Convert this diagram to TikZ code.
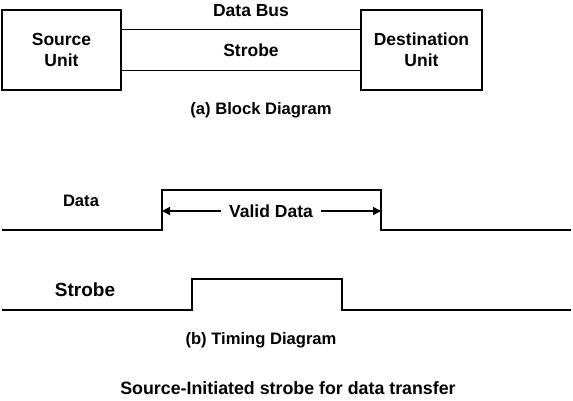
\documentclass[tikz,border=0pt]{standalone}
\usepackage{fontspec}
\setmainfont{Liberation Sans}
\usetikzlibrary{arrows.meta,calc,positioning}

\begin{document}
\begin{tikzpicture}[x=1pt,y=-1pt,
    unit/.style={draw,line width=1.6pt,minimum width=119pt,minimum height=80pt,
                align=center,font=\fontsize{17.5}{21}\selectfont\bfseries},
    lbl/.style={font=\fontsize{17.5}{21}\selectfont\bfseries,inner sep=1pt},
    figcap/.style={font=\fontsize{16.6}{20}\selectfont\bfseries},
    wire/.style={line width=1.5pt},
    arr/.style={-{Triangle[length=8pt,width=8pt]},line width=1.5pt}]
    \useasboundingbox (0,0) rectangle (573,401);
    % block diagram
    \node[unit] (src) at (61.5,50) {Source\\Unit};
    \node[unit,minimum width=121pt] (dst) at (421.5,50) {Destination\\Unit};
    \draw[wire] ($(src.north east)!.25!(src.south east)$) -- ($(dst.north west)!.25!(dst.south west)$);
    \draw[wire] ($(src.north east)!.75!(src.south east)$) -- ($(dst.north west)!.75!(dst.south west)$);
    \node[lbl] (bus) at (251,11) {Data Bus};
    \node[lbl] (strb) at (251,50) {Strobe};
    \node[figcap] (capa) at (261,110) {(a) Block Diagram};
    % timing diagram
    \coordinate (drise) at (162,230);
    \coordinate (dfall) at (381,230);
    \coordinate (srise) at (192,310);
    \coordinate (sfall) at (342,310);
    \draw[wire] (2,230) -- (drise) -- ++(0,-40) -| (dfall) -- (571,230);
    \draw[wire] (2,310) -- (srise) -- ++(0,-31) -| (sfall) -- (571,310);
    \node[lbl,font=\fontsize{16.6}{20}\selectfont\bfseries] (dlbl) at (81,201) {Data};
    \node[lbl,font=\fontsize{19}{22}\selectfont\bfseries] (slbl) at (85,290) {Strobe};
    \node[lbl,inner sep=8pt] (valid) at (271,211) {Valid Data};
    \draw[arr] (valid.west) -- (drise |- valid.west);
    \draw[arr] (valid.east) -- (dfall |- valid.east);
    \node[figcap] (capb) at (261,340) {(b) Timing Diagram};
    \node[figcap,font=\fontsize{17.8}{21}\selectfont\bfseries] (capc) at (288,388) {Source-Initiated strobe for data transfer};
\end{tikzpicture}
\end{document}
